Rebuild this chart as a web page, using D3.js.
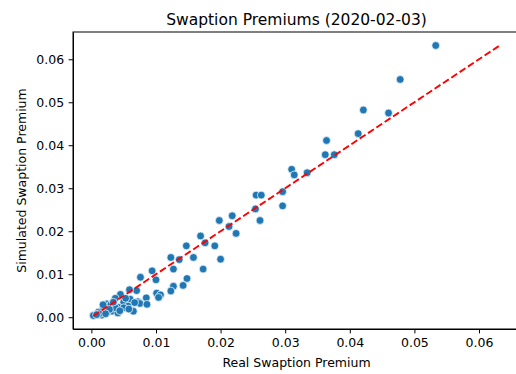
<!DOCTYPE html>
<html>
<head>
<meta charset="utf-8">
<script src="https://cdn.jsdelivr.net/npm/d3@7"></script>
<style>
  body { margin: 0; background: #fff; }
  text { font-family: "DejaVu Sans", sans-serif; fill: #000; }
  .axis text { font-size: 12.5px; }
  .axis path, .axis line { stroke: #000; stroke-width: 1; }
</style>
</head>
<body>
<div id="chart"></div>
<script>
// real premium (x) and simulated premium (y)
const realPremium = [
  0.0533, 0.0478, 0.0421, 0.0460, 0.0413, 0.0364, 0.0362, 0.0376, 0.0310, 0.0314,
  0.0334, 0.0296, 0.0296, 0.0255, 0.0263, 0.0254, 0.0261, 0.0218, 0.0198, 0.0213,
  0.0224, 0.0169, 0.0176, 0.0191, 0.0200, 0.0147, 0.0158, 0.0123, 0.0136, 0.0127,
  0.0173, 0.0094, 0.0076, 0.0100, 0.0148, 0.0142, 0.0127, 0.0123, 0.0101, 0.0107,
  0.0104, 0.0085, 0.0070, 0.0059, 0.0045, 0.0037, 0.0024, 0.0018, 0.0011, 0.0003,
  0.0060, 0.0050, 0.0072, 0.0057, 0.0042, 0.0032, 0.0024, 0.0041, 0.0016, 0.0075,
  0.0086, 0.0065, 0.0030, 0.0018, 0.0050, 0.0037, 0.0028, 0.0044, 0.0012, 0.0008,
  0.0053, 0.0067, 0.0058, 0.0022, 0.0034
];
const simPremium = [
  0.0632, 0.0553, 0.0482, 0.0475, 0.0427, 0.0411, 0.0378, 0.0378, 0.0344, 0.0331,
  0.0336, 0.0292, 0.0259, 0.0284, 0.0284, 0.0252, 0.0225, 0.0236, 0.0225, 0.0211,
  0.0195, 0.0189, 0.0173, 0.0166, 0.0135, 0.0166, 0.0139, 0.0139, 0.0134, 0.0112,
  0.0112, 0.0108, 0.0093, 0.0087, 0.0090, 0.0074, 0.0072, 0.0061, 0.0056, 0.0052,
  0.0046, 0.0045, 0.0062, 0.0064, 0.0053, 0.0044, 0.0031, 0.0020, 0.0012, 0.0004,
  0.0042, 0.0035, 0.0036, 0.0026, 0.0023, 0.0014, 0.0011, 0.0010, 0.0005, 0.0032,
  0.0030, 0.0014, 0.0029, 0.0029, 0.0022, 0.0022, 0.0018, 0.0015, 0.0008, 0.0006,
  0.0044, 0.0034, 0.0019, 0.0008, 0.0035
];
const tickValues = [0, 0.01, 0.02, 0.03, 0.04, 0.05, 0.06];

const data = realPremium.map((d, i) => ({real: d, sim: simPremium[i]}));

const width = 516, height = 374;
const margin = {top: 32, left: 73, right: -4, bottom: 45};

const svg = d3.select("#chart")
  .append("svg")
  .attr("width", width)
  .attr("height", height);

// matplotlib style 5% padding round data + diagonal
const lo = d3.min(data, d => Math.min(d.real, d.sim));
const hi = d3.max(data, d => Math.max(d.real, d.sim));
const xMin = d3.min(realPremium.concat([lo])), xMax = hi;
const padX = (xMax - xMin) * 0.05;
const yMin = d3.min(simPremium), yMax = d3.max(simPremium);
const padY = (yMax - yMin) * 0.05;

const xScale = d3.scaleLinear()
  .domain([xMin - padX, xMax + padX])
  .range([margin.left, width - margin.right]);

const yScale = d3.scaleLinear()
  .domain([yMin - padY, yMax + padY])
  .range([height - margin.bottom, margin.top]);

// axes
svg.append("g")
  .attr("class", "axis")
  .attr("transform", `translate(0,${height - margin.bottom})`)
  .call(d3.axisBottom(xScale).tickValues(tickValues).tickFormat(d3.format(".2f"))
    .tickSizeInner(4.4).tickSizeOuter(0).tickPadding(4.4));

svg.append("g")
  .attr("class", "axis")
  .attr("transform", `translate(${margin.left},0)`)
  .call(d3.axisLeft(yScale).tickValues(tickValues).tickFormat(d3.format(".2f"))
    .tickSizeInner(4.4).tickSizeOuter(0).tickPadding(4.4));

// frame (top / right spines)
svg.append("rect")
  .attr("x", xScale.range()[0])
  .attr("y", yScale.range()[1])
  .attr("width", xScale.range()[1] - xScale.range()[0])
  .attr("height", yScale.range()[0] - yScale.range()[1])
  .attr("fill", "none")
  .attr("stroke", "#000")
  .attr("stroke-width", 1);

// points
svg.append("g")
  .selectAll("circle")
  .data(data)
  .enter()
  .append("circle")
    .attr("cx", d => xScale(d.real))
    .attr("cy", d => yScale(d.sim))
    .attr("r", 3.9)
    .attr("fill", "#1f77b4")
    .attr("stroke", "#fff")
    .attr("stroke-width", 0.7);

// y = x reference
svg.append("line")
  .attr("x1", xScale(lo)).attr("y1", yScale(lo))
  .attr("x2", xScale(hi)).attr("y2", yScale(hi))
  .attr("stroke", "red")
  .attr("stroke-width", 1.9)
  .attr("stroke-dasharray", "7,3");

// labels
svg.append("text")
  .attr("x", (xScale.range()[0] + xScale.range()[1]) / 2)
  .attr("y", 25)
  .attr("text-anchor", "middle")
  .style("font-size", "15.5px")
  .text("Swaption Premiums (2020-02-03)");

svg.append("text")
  .attr("x", (xScale.range()[0] + xScale.range()[1]) / 2)
  .attr("y", 367)
  .attr("text-anchor", "middle")
  .style("font-size", "12.5px")
  .text("Real Swaption Premium");

svg.append("text")
  .attr("transform", "rotate(-90)")
  .attr("x", -(yScale.range()[0] + yScale.range()[1]) / 2)
  .attr("y", 26)
  .attr("text-anchor", "middle")
  .style("font-size", "12.5px")
  .text("Simulated Swaption Premium");
</script>
</body>
</html>
